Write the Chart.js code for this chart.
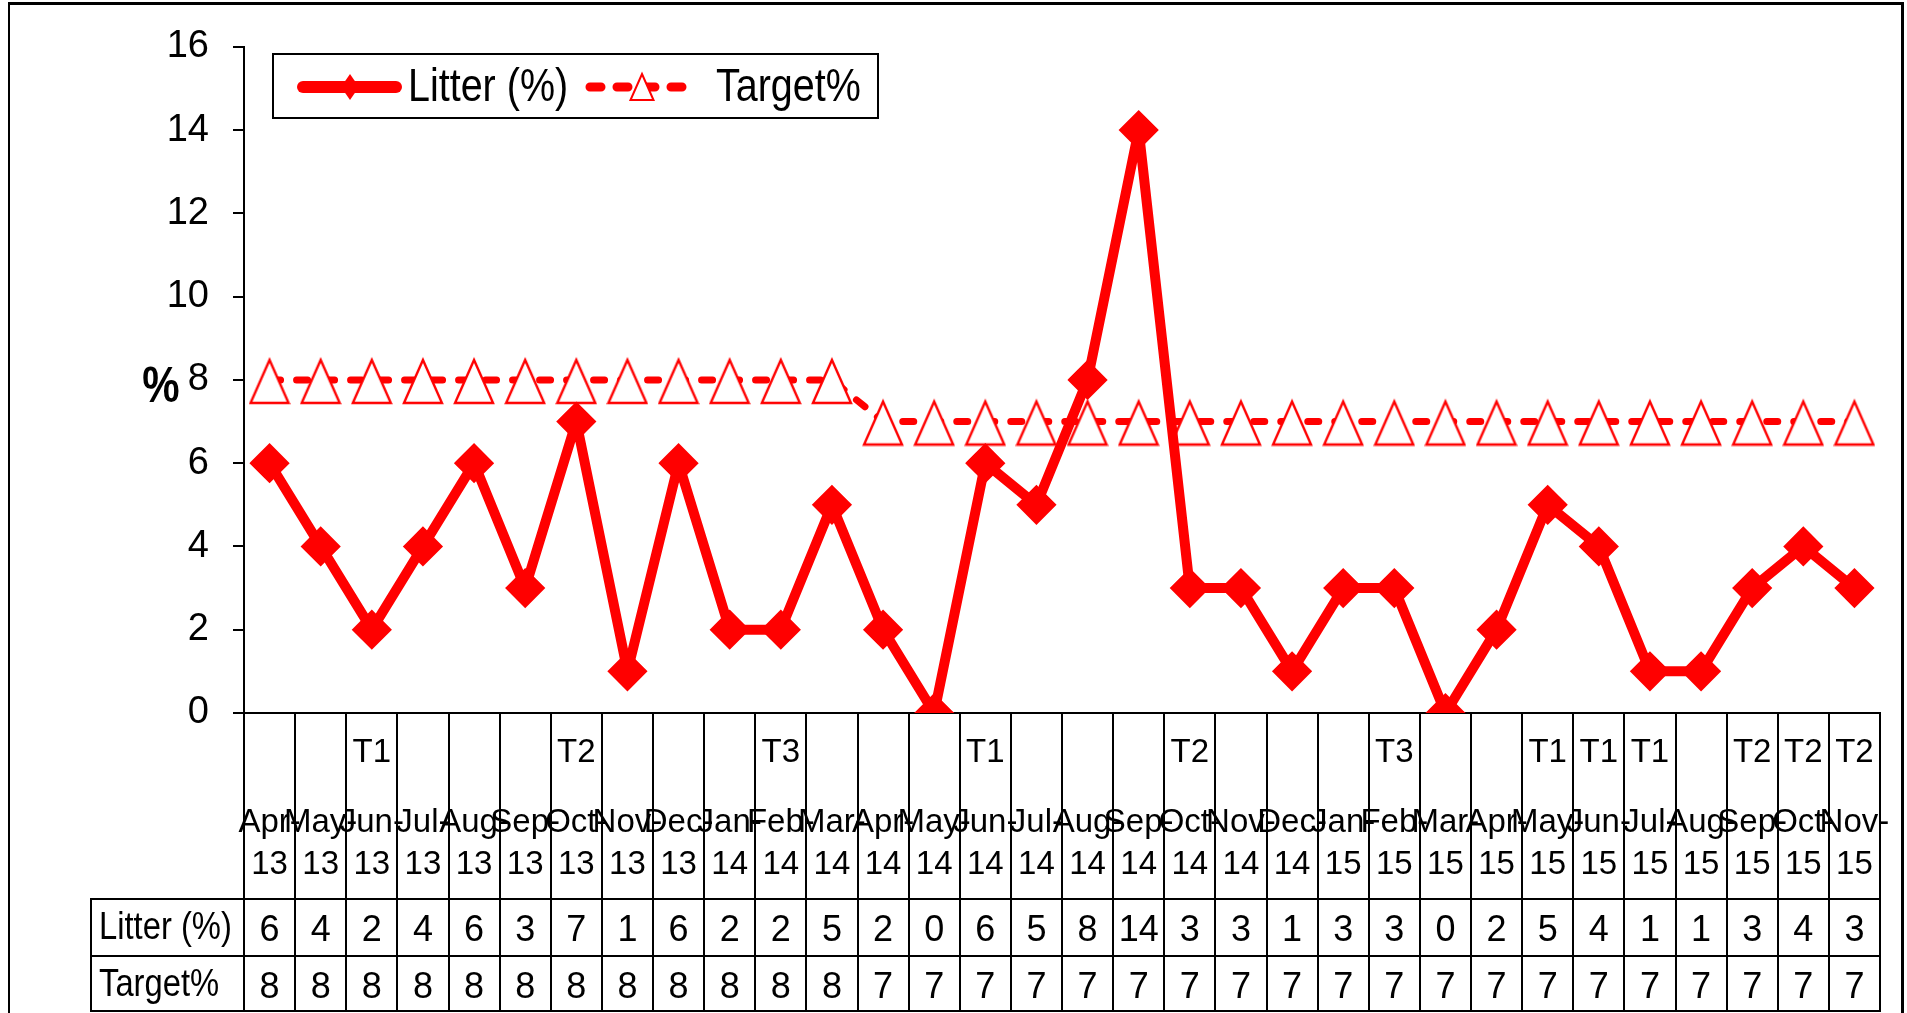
<!DOCTYPE html>
<html>
<head>
<meta charset="utf-8">
<title>Litter (%)</title>
<script src="https://cdn.jsdelivr.net/npm/chart.js@4.4.1/dist/chart.umd.min.js"></script>
<style>
  html, body { margin: 0; padding: 0; background: #fff; overflow: hidden; }
  #wrap { position: relative; width: 1907px; height: 1013px; }
  #chart { position: absolute; left: 0; top: 0; }
  #frame {
    position: absolute; left: 8px; top: 2px; width: 1896px; height: 1100px;
    box-sizing: border-box; border: 3px solid #000; border-left-width: 2px;
    pointer-events: none;
  }
</style>
</head>
<body>
<div id="wrap">
  <canvas id="chart" width="1907" height="1013"></canvas>
  <div id="frame"></div>
</div>
<script>
const FONT = '"Liberation Sans", Arial, sans-serif';
const NARROW = 0.84; // the original text is a condensed face
const RED = "#ff0000";
const INK = "#000000";

// months shown on the category axis
const months = [
  "Apr-13", "May-13", "Jun-13", "Jul-13", "Aug-13", "Sep-13", "Oct-13", "Nov-13",
  "Dec-13", "Jan-14", "Feb-14", "Mar-14", "Apr-14", "May-14", "Jun-14", "Jul-14",
  "Aug-14", "Sep-14", "Oct-14", "Nov-14", "Dec-14", "Jan-15", "Feb-15", "Mar-15",
  "Apr-15", "May-15", "Jun-15", "Jul-15", "Aug-15", "Sep-15", "Oct-15", "Nov-15",
];
// term markers above the month labels
const terms = [
  "", "", "T1", "", "", "", "T2", "", "", "", "T3", "", "", "", "T1", "",
  "", "", "T2", "", "", "", "T3", "", "", "T1", "T1", "T1", "", "T2", "T2", "T2",
];
const litter = [6, 4, 2, 4, 6, 3, 7, 1, 6, 2, 2, 5, 2, 0, 6, 5, 8, 14, 3, 3, 1, 3, 3, 0, 2, 5, 4, 1, 1, 3, 4, 3];
const target = [8, 8, 8, 8, 8, 8, 8, 8, 8, 8, 8, 8, 7, 7, 7, 7, 7, 7, 7, 7, 7, 7, 7, 7, 7, 7, 7, 7, 7, 7, 7, 7];
const seriesNames = ["Litter (%)", "Target%"];
const yTitle = "%";
const yMin = 0;
const yMax = 16;
const yStep = 2;

function monthLines(label) {
  const parts = label.split("-");
  return [`${parts[0]}-`, parts[1]];
}

function makeTriangle(w, h, top, bottom, halfBase, lineWidth) {
  const c = document.createElement("canvas");
  c.width = w;
  c.height = h;
  const ctx = c.getContext("2d");
  const cx = w / 2;
  ctx.beginPath();
  ctx.moveTo(cx, top);
  ctx.lineTo(cx + halfBase, bottom);
  ctx.lineTo(cx - halfBase, bottom);
  ctx.closePath();
  ctx.fillStyle = "#fff";
  ctx.fill();
  ctx.lineWidth = lineWidth;
  ctx.lineJoin = "miter";
  ctx.strokeStyle = RED;
  ctx.stroke();
  return c;
}

const triangleMarker = makeTriangle(42, 50, 5, 48, 19, 2.4);

// condensed text drawn by the plugin
function narrowText(ctx, text, x, y, font) {
  ctx.save();
  ctx.font = font;
  ctx.translate(x, y);
  ctx.scale(NARROW, 1);
  ctx.fillText(text, 0, 0);
  ctx.restore();
}

function tableAxis(labels, height, padding, weight, size, lineHeight) {
  return {
    type: "category",
    position: "bottom",
    labels,
    offset: true,
    weight,
    afterFit(scale) {
      scale.height = height;
    },
    border: { display: true, color: INK, width: 2 },
    grid: {
      offset: true,
      drawOnChartArea: false,
      drawTicks: true,
      tickLength: height,
      color: INK,
      lineWidth: 2,
    },
    ticks: {
      autoSkip: false,
      maxRotation: 0,
      minRotation: 0,
      padding,
      color: INK,
      font: { family: FONT, size, lineHeight },
    },
  };
}

const xAxisT = tableAxis(terms, 70, -52, 1, 33, 1.3);
const xAxisM = tableAxis(months.map(monthLines), 116, -98, 2, 33, 1.3);
xAxisM.border = { display: false };
const xAxisLitter = tableAxis(litter.map(String), 57, -47, 3, 36, 1.2);
const xAxisTarget = tableAxis(target.map(String), 56, -46, 4, 36, 1.2);

const tablePlugin = {
  id: "tablePlugin",
  afterDraw(chart) {
    const { ctx, chartArea } = chart;
    const rowA = chart.scales.xLitter;
    const rowB = chart.scales.xTarget;
    const tableLeft = 91;

    ctx.save();
    ctx.strokeStyle = INK;
    ctx.lineWidth = 2;
    ctx.beginPath();
    ctx.moveTo(tableLeft, rowA.top);
    ctx.lineTo(chartArea.left, rowA.top);
    ctx.moveTo(tableLeft, rowB.top);
    ctx.lineTo(chartArea.left, rowB.top);
    ctx.moveTo(tableLeft - 1, rowB.bottom - 1);
    ctx.lineTo(chartArea.right + 1, rowB.bottom - 1);
    ctx.moveTo(tableLeft, rowA.top - 1);
    ctx.lineTo(tableLeft, rowB.bottom);
    ctx.stroke();

    ctx.fillStyle = INK;
    ctx.textAlign = "left";
    ctx.textBaseline = "middle";
    narrowText(ctx, chart.data.datasets[0].label, 99, (rowA.top + rowA.bottom) / 2 + 1, `39px ${FONT}`);
    narrowText(ctx, chart.data.datasets[1].label, 99, (rowB.top + rowB.bottom) / 2 + 1, `39px ${FONT}`);

    // y axis title, horizontal
    ctx.textAlign = "center";
    narrowText(ctx, yTitle, 161, 388, `bold 50px ${FONT}`);

    // legend box
    const box = { x: 273, y: 54, w: 605, h: 64 };
    const cy = box.y + box.h / 2 + 1;
    ctx.fillStyle = "#fff";
    ctx.fillRect(box.x, box.y, box.w, box.h);
    ctx.strokeStyle = INK;
    ctx.lineWidth = 2;
    ctx.strokeRect(box.x, box.y, box.w, box.h);

    // litter sample
    ctx.strokeStyle = RED;
    ctx.lineCap = "round";
    ctx.lineWidth = 12;
    ctx.beginPath();
    ctx.moveTo(303, cy);
    ctx.lineTo(396, cy);
    ctx.stroke();
    ctx.fillStyle = RED;
    ctx.beginPath();
    ctx.moveTo(350, cy - 13);
    ctx.lineTo(359, cy);
    ctx.lineTo(350, cy + 13);
    ctx.lineTo(341, cy);
    ctx.closePath();
    ctx.fill();

    // target sample
    ctx.lineWidth = 9;
    ctx.setLineDash([11, 16]);
    ctx.lineDashOffset = 0;
    ctx.beginPath();
    ctx.moveTo(590, cy);
    ctx.lineTo(698, cy);
    ctx.stroke();
    ctx.setLineDash([]);
    ctx.beginPath();
    ctx.moveTo(642, cy - 13);
    ctx.lineTo(653.5, cy + 13);
    ctx.lineTo(630.5, cy + 13);
    ctx.closePath();
    ctx.fillStyle = "#fff";
    ctx.fill();
    ctx.lineWidth = 2;
    ctx.lineCap = "butt";
    ctx.stroke();

    ctx.fillStyle = INK;
    ctx.textAlign = "left";
    narrowText(ctx, chart.data.datasets[0].label, 408, cy + 1, `47px ${FONT}`);
    narrowText(ctx, chart.data.datasets[1].label, 716, cy + 1, `47px ${FONT}`);
    ctx.restore();
  },
};

new Chart(document.getElementById("chart"), {
  type: "line",
  data: {
    labels: months,
    datasets: [
      {
        label: seriesNames[0],
        data: litter,
        xAxisID: "xM",
        borderColor: RED,
        backgroundColor: RED,
        borderWidth: 10,
        borderJoinStyle: "round",
        tension: 0,
        fill: false,
        pointStyle: "rectRot",
        pointRadius: 18,
        pointBackgroundColor: RED,
        pointBorderColor: RED,
        pointBorderWidth: 3,
      },
      {
        label: seriesNames[1],
        data: target,
        xAxisID: "xM",
        borderColor: RED,
        backgroundColor: RED,
        borderWidth: 7,
        borderDash: [11, 16],
        borderCapStyle: "round",
        tension: 0,
        fill: false,
        pointStyle: triangleMarker,
        pointRadius: 20,
      },
    ],
  },
  options: {
    responsive: false,
    animation: false,
    devicePixelRatio: 1,
    layout: { padding: { left: 0, top: 37, right: 18, bottom: 1 } },
    plugins: {
      legend: { display: false },
      title: { display: false },
      tooltip: { enabled: false },
    },
    scales: {
      y: {
        min: yMin,
        max: yMax,
        afterFit(scale) {
          scale.width = 244;
        },
        border: { display: true, color: INK, width: 2 },
        grid: {
          drawOnChartArea: false,
          tickLength: 11,
          color: INK,
          lineWidth: 2,
        },
        ticks: {
          stepSize: yStep,
          padding: 24,
          color: INK,
          font: { family: FONT, size: 38 },
        },
      },
      xT: xAxisT,
      xM: xAxisM,
      xLitter: xAxisLitter,
      xTarget: xAxisTarget,
    },
  },
  plugins: [tablePlugin],
});
</script>
</body>
</html>
